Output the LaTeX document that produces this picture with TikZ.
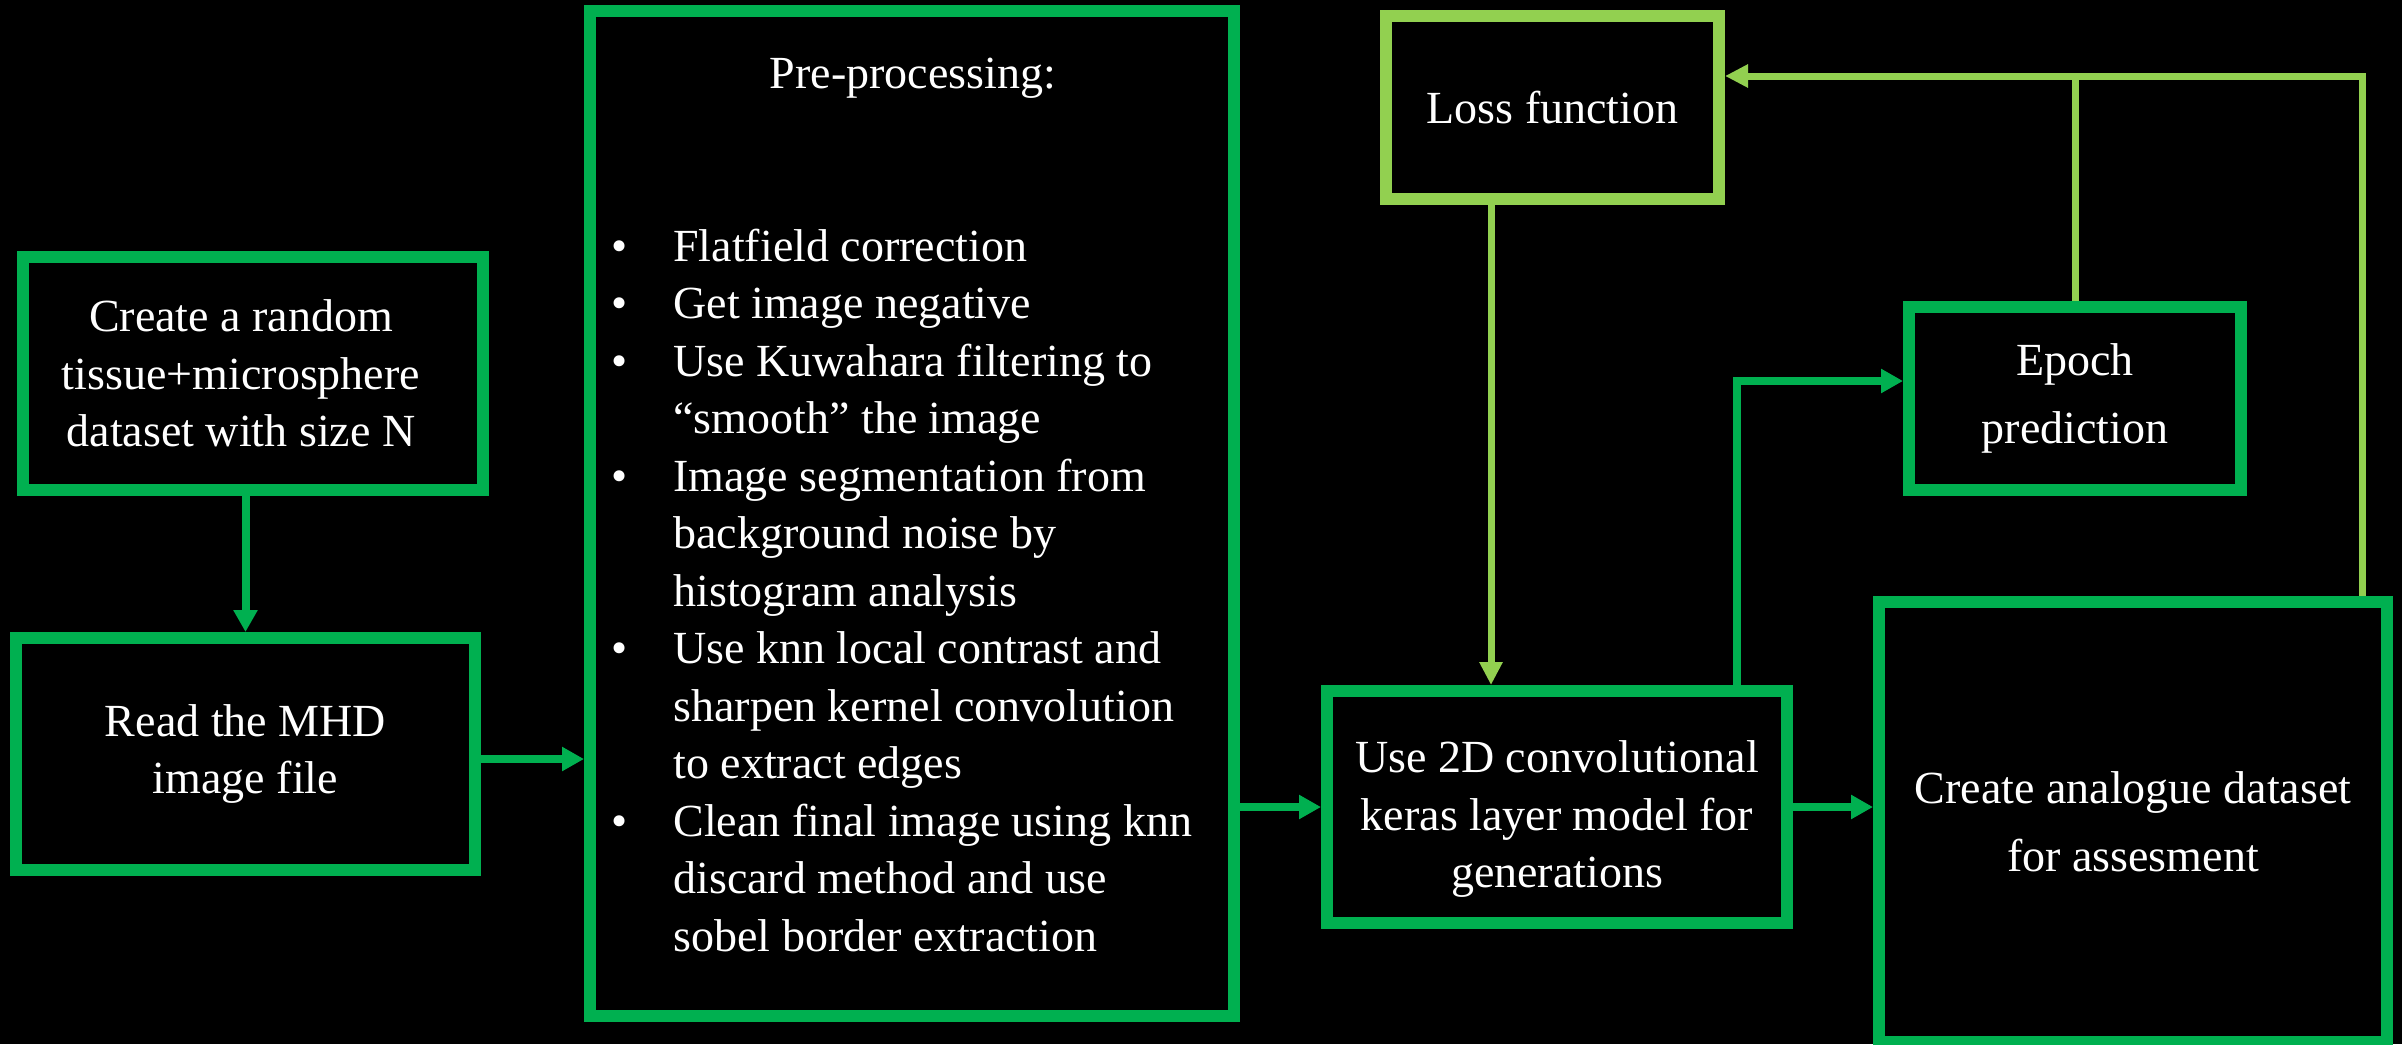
\documentclass[tikz,border=0pt]{standalone}
\usepackage{fontspec}
\setmainfont{Liberation Serif}
\usetikzlibrary{arrows.meta,calc}
\definecolor{gmid}{RGB}{0,176,80}
\definecolor{glight}{RGB}{146,208,80}
\newcommand\blt{\makebox[31pt][l]{\textbullet}}
\newcommand\ind{\hspace*{31pt}}
\begin{document}
\begin{tikzpicture}[x=0.5pt,y=-0.5pt,
  box/.style={draw=gmid,line width=6pt,fill=black,text=white,align=center,inner sep=0pt,font=\fontsize{23}{28.75}\selectfont},
  lbox/.style={box,draw=glight},
  widebox/.style={box,font=\fontsize{23}{34}\selectfont},
  garrow/.style={draw=gmid,line width=4pt,-{Triangle[length=11pt,width=11.5pt]}},
  larrow/.style={draw=glight,line width=3.5pt,-{Triangle[length=11.5pt,width=11pt]}},
  lline/.style={draw=glight,line width=3.5pt},
  txt/.style={text=white,inner sep=0pt,font=\fontsize{23}{28.75}\selectfont}]
\fill[black] (0,0) rectangle (2402,1044);
\useasboundingbox (0,0) rectangle (2402,1044);
\clip (0,0) rectangle (2402,1044);

% boxes
\node[box,minimum width=230pt,minimum height=116.5pt] (create) at (253,373.5) {};
\node[txt,align=center] (createtext) at (241,373.5) {Create a random\\tissue+microsphere\\dataset with size N};
\node[box,minimum width=229.5pt,minimum height=116pt] (read) at (245.5,754) {Read the MHD\\image file};
\node[box,minimum width=322pt,minimum height=502.5pt] (pre) at (912,513.5) {};
\node[txt,anchor=base] (pretitle) at (913,88) {Pre-processing:};
\node[txt,anchor=base west] (prelist) at (611,261) {\begin{tabular}[t]{@{}l@{}}
\blt Flatfield correction\\
\blt Get image negative\\
\blt Use Kuwahara filtering to\\
\ind “smooth” the image\\
\blt Image segmentation from\\
\ind background noise by\\
\ind histogram analysis\\
\blt Use knn local contrast and\\
\ind sharpen kernel convolution\\
\ind to extract edges\\
\blt Clean final image using knn\\
\ind discard method and use\\
\ind sobel border extraction
\end{tabular}};
\node[lbox,minimum width=166.5pt,minimum height=91.5pt] (loss) at (1552.5,107.5) {Loss function};
\node[widebox,minimum width=166pt,minimum height=91.5pt] (epoch) at (2075,398.5) {Epoch\\prediction};
\node[box,minimum width=230pt,minimum height=116pt] (conv) at (1557,807) {};
\node[txt,align=center] (convtext) at (1557,819) {Use 2D convolutional\\keras layer model for\\generations};
\node[widebox,minimum width=254pt,minimum height=220pt] (analog) at (2133,822) {Create analogue dataset\\for assesment};

% connectors
\draw[garrow] (create.south -| read.north) -- (read.north);
\draw[garrow] ([yshift=-2.5pt]read.east) -- ([yshift=-2.5pt]read.east -| pre.west);
\draw[garrow] (conv.west -| pre.east) -- (conv.west);
\draw[garrow] (conv.east) -- (conv.east -| analog.west);
\draw[larrow] (loss.south -| 1491,0) -- (conv.north -| 1491,0);
\draw[garrow] (conv.north -| 1737,0) |- ([yshift=8.75pt]epoch.west);
\draw[larrow] (analog.north -| 2362,0) |- ([yshift=15.75pt]loss.east);
\draw[lline] (epoch.north) -- (epoch.north |- 0,76);
\end{tikzpicture}
\end{document}
